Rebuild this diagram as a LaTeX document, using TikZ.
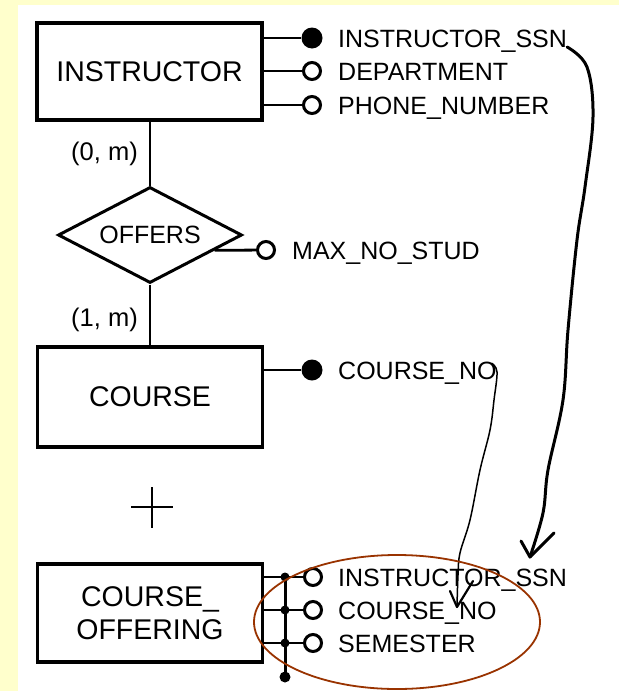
\documentclass[tikz,border=0pt]{standalone}
\usepackage{fontspec}
\setmainfont{Liberation Sans}
\usetikzlibrary{shapes.geometric,calc}
\definecolor{pageyellow}{HTML}{FFFFCC}
\definecolor{markbrown}{HTML}{993300}

\begin{document}
\begin{tikzpicture}[x=1pt,y=-1pt,
  entity/.style={draw, line width=3.2pt, minimum width=225pt, inner sep=0pt,
    font=\fontsize{28.5}{34}\selectfont, align=center},
  relship/.style={diamond, draw, line width=3pt, minimum width=184pt,
    minimum height=96pt, aspect=1.9, inner sep=0pt, font=\fontsize{25}{30}\selectfont},
  keydot/.style={circle, fill, inner sep=0pt, minimum size=21pt},
  attrdot/.style={circle, draw, line width=3pt, fill=white, inner sep=0pt, minimum size=17pt},
  junction/.style={circle, fill, inner sep=0pt, minimum size=9pt},
  attrtext/.style={anchor=base west, inner sep=0pt, font=\fontsize{25}{30}\selectfont},
  card/.style={anchor=base east, inner sep=0pt, font=\fontsize{25.5}{30}\selectfont},
  link/.style={line width=2.8pt},
  pen/.style={line width=3pt, line cap=round, line join=round},
  thinpen/.style={line width=1.5pt, line cap=round, line join=round}
]
% page and frame
\useasboundingbox (0,0) rectangle (619,691);
\fill[pageyellow] (0,0) rectangle (619,691);
\fill[white] (18,5) rectangle (619,691);

% entities and relationship
\node[entity, minimum height=97pt] (instr) at (149.5,71.5) {INSTRUCTOR};
\node[relship] (offers) at (150,235) {OFFERS};
\node[entity, minimum height=100pt] (course) at (150,397) {COURSE};
\node[entity, minimum height=98pt] (coff) at (150,613) {COURSE\_\\[-0.8pt]OFFERING};

% relationship lines and cardinalities
\draw[link] (offers.north) -- (offers.north |- instr.south);
\draw[link] (offers.south) -- (offers.south |- course.north);
\node[card] (card1) at (138,160) {(0, m)};
\node[card] (card2) at (138,326) {(1, m)};

% INSTRUCTOR attributes
\node[keydot]  (issn) at (312,38) {};
\node[attrdot] (idep) at (312,71) {};
\node[attrdot] (iph)  at (312,105) {};
\draw[link] (instr.east |- issn) -- (issn);
\draw[link] (instr.east |- idep) -- (idep);
\draw[link] (instr.east |- iph) -- (iph);
\node[attrtext] (issnt) at (338,47) {INSTRUCTOR\_SSN};
\node[attrtext] (ideptt) at (338,80) {DEPARTMENT};
\node[attrtext] (ipht) at (338,114) {PHONE\_NUMBER};

% OFFERS attribute
\node[attrdot] (maxc) at (266,250) {};
\draw[link] ($(offers.east)!0.31!(offers.south)$) -- (maxc);
\node[attrtext] (maxt) at (292,259) {MAX\_NO\_STUD};

% COURSE attribute
\node[keydot] (cno) at (312,370) {};
\draw[link] (course.east |- cno) -- (cno);
\node[attrtext] (cnot) at (338,379) {COURSE\_NO};

% plus sign between the two entities
\coordinate (plus) at (152,507);
\draw[line width=2.8pt] ($(plus)+(-21,0)$) -- ($(plus)+(21,0)$);
\draw[line width=2.8pt] ($(plus)+(0,-20)$) -- ($(plus)+(0,21)$);

% COURSE_OFFERING attributes
\node[attrdot] (o1) at (313,577) {};
\node[attrdot] (o2) at (313,610) {};
\node[attrdot] (o3) at (313,643) {};
\draw[link] (coff.east |- o1) -- (o1);
\draw[link] (coff.east |- o2) -- (o2);
\draw[link] (coff.east |- o3) -- (o3);
\coordinate (j1) at (285,577);
\coordinate (j2) at (285,610);
\coordinate (j3) at (285,643);
\coordinate (j4) at (285,677);
\draw[line width=3pt] (j1) -- (j4);
\node[junction] at (j1) {};
\node[junction] at (j2) {};
\node[junction] at (j3) {};
\node[junction, minimum size=11pt] at (j4) {};
\node[attrtext] (o1t) at (338,586) {INSTRUCTOR\_SSN};
\node[attrtext] (o2t) at (338,619) {COURSE\_NO};
\node[attrtext] (o3t) at (338,652) {SEMESTER};

% hand-drawn arrows from the keys to the offering attributes
\coordinate (tip1) at (530,557);
\draw[pen] plot[smooth, tension=0.6] coordinates {(issnt.base east) (587,67) (593,117) (585,187) (577,240) (568,330) (563,400) (548,470) (543,513) (tip1)};
\draw[pen] (521,541) -- (tip1) -- (554,533);

\coordinate (tip2) at (457,607);
\draw[thinpen] plot[smooth, tension=0.6] coordinates {($(cnot.north east)+(-5,2)$) (497,372) (494,400) (490,430) (480,470) (470,520) (460,553) (458,575) (tip2)};
\draw[line width=2.2pt, line cap=round, line join=round] (450,591) -- (tip2) -- (473,581);

% highlight ring
\draw[markbrown, line width=1.8pt] (397,622) ellipse [x radius=143pt, y radius=67pt];
\end{tikzpicture}
\end{document}
